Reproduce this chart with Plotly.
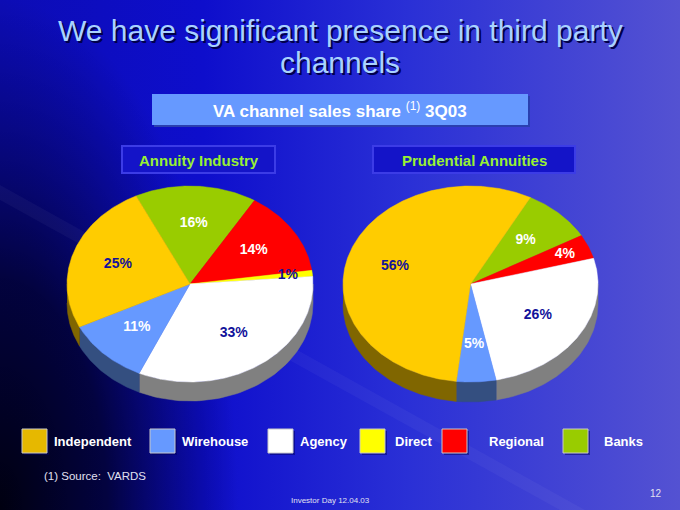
import base64
import numpy as np
import plotly.graph_objects as go

# channel order is the same for both pies, clockwise from the start angle
channels = ["Banks", "Regional", "Direct", "Agency", "Wirehouse", "Independent"]
industry_share = [16, 14, 1, 33, 11, 25]
prudential_share = [9, 4, 0, 26, 5, 56]

legend_order = ["Independent", "Wirehouse", "Agency", "Direct", "Regional", "Banks"]

top_colors = {"Banks": "#99cc00", "Regional": "#ff0000", "Direct": "#ffff00",
              "Agency": "#ffffff", "Wirehouse": "#6699ff", "Independent": "#ffcc00"}
side_colors = {"Banks": "#4d6600", "Regional": "#800000", "Direct": "#808000",
               "Agency": "#808080", "Wirehouse": "#344f80", "Independent": "#806600"}
label_colors = {"Banks": "white", "Regional": "white", "Direct": "#12129a",
                "Agency": "#12129a", "Wirehouse": "white", "Independent": "#12129a"}
legend_colors = {"Independent": "#e6b800", "Wirehouse": "#6699ff", "Agency": "#ffffff",
                 "Direct": "#ffff00", "Regional": "#ff0000", "Banks": "#99cc00"}

FONT = "Liberation Sans, Arial, sans-serif"


def slice_ranges(values, start):
    total = float(sum(values))
    out = []
    a0 = start
    for v in values:
        a1 = a0 - v / total * 360.0
        out.append((a0, a1))
        a0 = a1
    return out


def ellipse_pts(t_deg, cx, cy, rx, ry, dy=0.0):
    t = np.radians(t_deg)
    return cx + rx * np.cos(t), cy - ry * np.sin(t) + dy


def pie_traces(values, cx, cy, rx, ry, depth, start):
    sides, tops, labels = [], [], ([], [], [], [])
    for name, v, (a0, a1) in zip(channels, values, slice_ranges(values, start)):
        if v <= 0:
            continue
        # side wall, only where the rim faces the viewer
        for k in range(-2, 3):
            lo = max(a1, -180 + 360 * k)
            hi = min(a0, 360 * k)
            if lo >= hi:
                continue
            t = np.linspace(lo, hi, 60)
            xt, yt = ellipse_pts(t, cx, cy, rx, ry)
            xb, yb = ellipse_pts(t[::-1], cx, cy, rx, ry, depth)
            sides.append(go.Scatter(
                x=np.concatenate([xt, xb]), y=np.concatenate([yt, yb]),
                fill="toself", fillcolor=side_colors[name], mode="lines",
                line=dict(width=0.5, color=side_colors[name]),
                hoverinfo="skip", showlegend=False))
        t = np.linspace(a0, a1, max(8, int(abs(a0 - a1) * 2)))
        xa, ya = ellipse_pts(t, cx, cy, rx, ry)
        tops.append(go.Scatter(
            x=np.concatenate([[cx], xa, [cx]]), y=np.concatenate([[cy], ya, [cy]]),
            fill="toself", fillcolor=top_colors[name], mode="lines",
            line=dict(width=0.5, color=top_colors[name]),
            hoverinfo="skip", showlegend=False))
        mid = (a0 + a1) / 2
        r = 0.8 if v < 5 else 0.62
        lx, ly = ellipse_pts(mid, cx, cy, rx * r, ry * r)
        labels[0].append(lx)
        labels[1].append(ly)
        labels[2].append(f"{v}%")
        labels[3].append(label_colors[name])
    text = go.Scatter(x=labels[0], y=labels[1], text=labels[2], mode="text",
                      textfont=dict(family=FONT, size=14, color=labels[3], weight="bold"),
                      hoverinfo="skip", showlegend=False)
    return sides, tops, text


s1, t1, l1 = pie_traces(industry_share, 190, 284, 123, 98, 19, 116)
s2, t2, l2 = pie_traces(prudential_share, 470.5, 284, 127.5, 98, 20, 62)

fig = go.Figure(s1 + s2 + t1 + t2 + [l1, l2])

# slide background
bg_svg = """<svg xmlns='http://www.w3.org/2000/svg' width='680' height='510'>
<defs>
<linearGradient id='g' x1='0' y1='0' x2='1' y2='0'>
<stop offset='0' stop-color='#0c0cb4'/><stop offset='0.3' stop-color='#0e0ecc'/>
<stop offset='0.6' stop-color='#2a30d6'/><stop offset='1' stop-color='#5452d2'/></linearGradient>
<radialGradient id='d' cx='0' cy='1' r='1' gradientTransform='scale(0.35,1)'>
<stop offset='0' stop-color='#000010' stop-opacity='1'/><stop offset='0.45' stop-color='#000020' stop-opacity='0.8'/>
<stop offset='1' stop-color='#000040' stop-opacity='0'/></radialGradient>
</defs>
<rect width='680' height='510' fill='url(#g)'/>
<rect width='680' height='510' fill='url(#d)'/>
<polygon points='0,185 0,200 560,510 585,510' fill='#ffffff' fill-opacity='0.04'/>
</svg>"""
fig.add_layout_image(dict(
    source="data:image/svg+xml;base64," + base64.b64encode(bg_svg.encode()).decode(),
    xref="paper", yref="paper", x=0, y=1, sizex=1, sizey=1,
    sizing="stretch", xanchor="left", yanchor="top", layer="below"))

# title with drop shadow
for dx, col in [(2, "#00004a"), (0, "#a9d2ff")]:
    for line, y in [("We have significant presence in third party", 30),
                    ("channels", 62)]:
        fig.add_annotation(x=340 + dx, y=y + dx, text=line, showarrow=False,
                           font=dict(family=FONT, size=30, color=col))

# subtitle box
fig.add_shape(type="rect", x0=154, y0=96, x1=530, y1=127, fillcolor="#2a3fb0",
              line=dict(width=0))
fig.add_shape(type="rect", x0=152, y0=94, x1=528, y1=125, fillcolor="#6699ff",
              line=dict(width=0))
fig.add_annotation(x=340, y=110, showarrow=False,
                   text="<b>VA channel sales share</b> <sup>(1)</sup> <b>3Q03</b>",
                   font=dict(family=FONT, size=17, color="white"))

# pie captions
for x0, x1, txt in [(122, 275, "Annuity Industry"), (373, 575, "Prudential Annuities")]:
    fig.add_shape(type="rect", x0=x0, y0=146, x1=x1, y1=173, fillcolor="#1414c8",
                  line=dict(width=2, color="#3c3ce6"))
    fig.add_annotation(x=(x0 + x1) / 2, y=160, text=f"<b>{txt}</b>", showarrow=False,
                       font=dict(family=FONT, size=15, color="#99f033"))

# legend
sq_x = [22, 150, 268, 360, 442, 563]
txt_x = [52, 180, 298, 393, 487, 602]
for name, sx, tx in zip(legend_order, sq_x, txt_x):
    fig.add_shape(type="rect", x0=sx + 2, y0=431, x1=sx + 27, y1=455,
                  fillcolor="#000060", opacity=0.5, line=dict(width=0))
    fig.add_shape(type="rect", x0=sx, y0=429, x1=sx + 25, y1=453,
                  fillcolor=legend_colors[name], line=dict(width=1, color="#c8c8c8"))
    fig.add_annotation(x=tx, y=441, text=f"<b>{name}</b>", showarrow=False,
                       xanchor="left", font=dict(family=FONT, size=13, color="white"))

# footnotes
fig.add_annotation(x=42, y=476, text="(1) Source:  VARDS", showarrow=False,
                   xanchor="left", font=dict(family=FONT, size=11.5, color="#e0e0f0"))
fig.add_annotation(x=330, y=500, text="Investor Day 12.04.03", showarrow=False,
                   font=dict(family=FONT, size=8, color="#e0e0f0"))
fig.add_annotation(x=656, y=493, text="12", showarrow=False,
                   font=dict(family=FONT, size=10, color="#e0e0f0"))

fig.update_xaxes(range=[0, 680], visible=False, fixedrange=True)
fig.update_yaxes(range=[510, 0], visible=False, fixedrange=True)
fig.update_layout(width=680, height=510, margin=dict(l=0, r=0, t=0, b=0),
                  paper_bgcolor="#0a0ab0", plot_bgcolor="rgba(0,0,0,0)",
                  showlegend=False)

fig.write_html("out.html", config={"displayModeBar": False},
               post_script="document.body.style.margin='0';")
